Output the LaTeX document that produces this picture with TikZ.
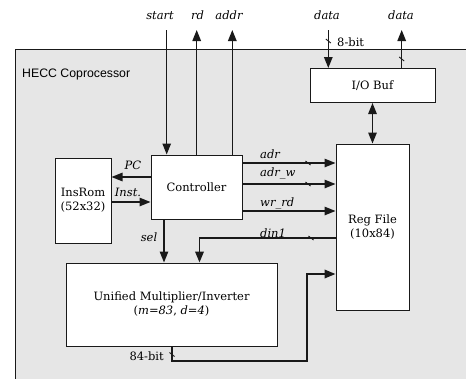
\documentclass[tikz,border=0pt]{standalone}
\usepackage{fontspec}
\setmainfont{DejaVu Serif}
\newfontfamily\heccfont{Liberation Sans}
\usetikzlibrary{arrows.meta}
\definecolor{bg}{RGB}{230,230,230}
\definecolor{ln}{RGB}{25,25,25}
\begin{document}
\begin{tikzpicture}[x=1pt,y=-1pt,
  font=\fontsize{11.5}{14}\selectfont,
  box/.style={draw=ln, fill=white, line width=1pt, inner sep=0pt, align=center},
  arr/.style={line width=1.4pt, draw=ln, -{Triangle[length=11pt,width=8.5pt]}},
  barr/.style={line width=1.4pt, draw=ln, {Triangle[length=11pt,width=8.5pt]}-{Triangle[length=11pt,width=8.5pt]}},
  thk/.style={line width=1.9pt},
  lbl/.style={inner sep=0pt, font=\fontsize{11.5}{14}\selectfont\itshape},
  tickmark/.style={line width=0.9pt, draw=ln}]
\useasboundingbox (0,0) rectangle (466,378);
\clip (0,0) rectangle (466,378);
\draw[fill=bg, draw=ln, line width=1pt] (15.5,49.5) rectangle (490,400);
\node[anchor=west, inner sep=0pt, font=\heccfont\fontsize{12.3}{14}\selectfont] (title) at (22,74) {HECC Coprocessor};

% boxes
\node[box, minimum width=56pt, minimum height=85pt] (rom) at (83,200.5) {InsRom\\(52x32)};
\node[box, minimum width=91pt, minimum height=64pt] (ctrl) at (196.5,187) {Controller};
\node[box, minimum width=125pt, minimum height=34pt] (io) at (372.5,85.5) {I/O Buf};
\node[box, minimum width=73pt, minimum height=166pt] (reg) at (372.5,227) {Reg File\\(10x84)};
\node[box, minimum width=211pt, minimum height=83pt] (mul) at (171.5,304.5) {Unified Multiplier/Inverter\\(\textit{m}=\textit{83}, \textit{d}=\textit{4})};

% top ports
\coordinate (tS) at (166.7,30);
\coordinate (tR) at (196.7,30);
\coordinate (tA) at (232.3,30);
\coordinate (tDi) at (328.3,30);
\coordinate (tDo) at (401.7,30);
\node[lbl] (lS) at (160,15.6) {start};
\node[lbl] (lR) at (197.5,15.6) {rd};
\node[lbl] (lA) at (229,15.6) {addr};
\node[lbl] (lDi) at (327,15.6) {data};
\node[lbl] (lDo) at (401,15.6) {data};

\draw[arr, line width=1.1pt] (tS) -- (tS |- ctrl.north);
\draw[arr] (tR |- ctrl.north) -- (tR);
\draw[arr] (tA |- ctrl.north) -- (tA);
\draw[arr] (tDi) -- (tDi |- io.north);
\draw[arr] (tDo |- io.north) -- (tDo);
\draw[tickmark] ([shift={(-2.5,-2)}]tDi |- 0,41) -- ([shift={(2.5,2)}]tDi |- 0,41);
\draw[tickmark] ([shift={(-2.5,-2)}]tDo |- 0,59) -- ([shift={(2.5,2)}]tDo |- 0,59);
\node[inner sep=0pt, anchor=west] (l8) at (337,42) {8-bit};

% IO - Reg
\draw[barr] (io.south) -- (reg.north);

% PC / Inst
\coordinate (yPC) at (0,177);
\coordinate (yIn) at (0,202);
\draw[arr] (ctrl.west |- yPC) -- (rom.east |- yPC);
\draw[arr] (rom.east |- yIn) -- (ctrl.west |- yIn);
\node[lbl] (lPC) at (133,165.7) {PC};
\node[lbl] (lIn) at (128,192.7) {Inst.};

% Controller -> Reg File
\coordinate (yAd) at (0,163);
\coordinate (yAw) at (0,184);
\coordinate (yWr) at (0,211);
\coordinate (yDn) at (0,238);
\draw[arr] (ctrl.east |- yAd) -- (reg.west |- yAd);
\draw[arr] (ctrl.east |- yAw) -- (reg.west |- yAw);
\draw[arr] (ctrl.east |- yWr) -- (reg.west |- yWr);
\draw[tickmark] (305.5,161) -- (310.5,165);
\draw[tickmark] (305.5,182) -- (310.5,186);
\node[lbl, anchor=west] (lAd) at (260,154) {adr};
\node[lbl, anchor=west] (lAw) at (260,173) {adr\_w};
\node[lbl, anchor=west] (lWr) at (260,203) {wr\_rd};
\node[lbl, anchor=west] (lDn) at (260,233) {din1};

% din1 : Reg File -> Multiplier
\coordinate (dnx) at (199.5,0);
\draw[arr, thk] (reg.west |- yDn) -- (dnx |- yDn) -- (dnx |- mul.north);
\draw[tickmark] (308.5,236) -- (313.5,240);

% sel
\coordinate (selx) at (164,0);
\draw[arr] (selx |- ctrl.south) -- (selx |- mul.north);
\node[lbl] (lSel) at (149,237) {sel};

% output 84-bit
\coordinate (o1) at (172,361);
\coordinate (o2) at (307,361);
\coordinate (o3) at (307,274);
\draw[arr, thk] (mul.south -| o1) -- (o1) -- (o2) -- (o3) -- (reg.west |- o3);
\draw[tickmark] (169.5,352.5) -- (174.5,356.5);
\node[inner sep=0pt, anchor=east] (l84) at (164,356) {84-bit};
\end{tikzpicture}
\end{document}
